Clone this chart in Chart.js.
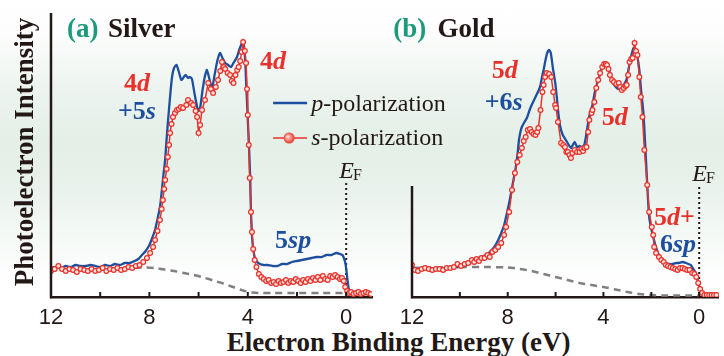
<!DOCTYPE html>
<html>
<head>
<meta charset="utf-8">
<script src="https://cdn.jsdelivr.net/npm/chart.js@4/dist/chart.umd.min.js"></script>
<style>
html, body { margin: 0; padding: 0; }
body {
    width: 724px; height: 356px; overflow: hidden; position: relative;
    background: linear-gradient(to bottom, #fff 0px, #fcfdfc 35px, #ebf3ee 95px, #e3efe7 145px,
                #e9f2ec 190px, #f6faf7 240px, #fff 285px, #fff 356px);
}
.panel { position: absolute; top: 0; height: 356px; }
#pa { left: 0; width: 470px; z-index: 2; }
#pb { left: 380px; width: 344px; z-index: 1; }
#xtitle {
    position: absolute; left: 0; width: 797px; top: 329px; text-align: center;
    font: bold 27px/27px "Liberation Serif", serif; color: #231815; white-space: nowrap;
}
</style>
</head>
<body>
<div class="panel" id="pa"><canvas id="chartA"></canvas></div>
<div class="panel" id="pb"><canvas id="chartB"></canvas></div>
<div id="xtitle">Electron Binding Energy (eV)</div>
<script>
// Photoemission spectra, Ag and Au — p- vs s-polarization

const RED = '#e8312b';
const BLUE = '#1d4f9e';
const INK = '#231815';
const TEAL = '#1d9a7c';
const GRAY = '#808080';
const SERIF = '"Liberation Serif", "Times New Roman", serif';
const SANS = '"Liberation Sans", Arial, sans-serif';

// ── Axis ticks (binding energy, eV) ───────────────────────────────────
const tickValues = [0, 2, 4, 6, 8, 10, 12];
const tickLabels = ['0', '', '4', '', '8', '', '12'];

// ── (a) Silver ────────────────────────────────────────────────────────
const agPEnergy = [12.0, 11.8, 11.6, 11.4, 11.2, 11.0, 10.8, 10.6, 10.4, 10.2, 10.0, 9.8, 9.6, 9.4, 9.2, 9.0,
    8.8, 8.6, 8.45, 8.3, 8.15, 8.0, 7.9, 7.77, 7.67, 7.57, 7.5, 7.43, 7.36, 7.3, 7.24, 7.16, 7.08, 7.0, 6.9, 6.8,
    6.7, 6.6, 6.52, 6.43, 6.35, 6.27, 6.17, 6.06, 6.0, 5.93, 5.85, 5.75, 5.66, 5.56, 5.45, 5.35, 5.24, 5.13, 5.03, 4.92,
    4.8, 4.68, 4.56, 4.44, 4.35, 4.27, 4.19, 4.12, 4.05, 4.0, 3.95, 3.9, 3.87, 3.83, 3.79, 3.72, 3.62, 3.5, 3.35, 3.2,
    3.0, 2.8, 2.6, 2.4, 2.2, 2.0, 1.8, 1.6, 1.4, 1.2, 1.0, 0.8, 0.6, 0.4, 0.25, 0.15, 0.08, 0.02, -0.04, -0.1,
    -0.18, -0.3, -0.5, -0.7, -0.9, -1.0];
const agPIntensity = [29, 30, 29, 31, 30, 32, 31, 31, 32, 31, 30, 32, 31, 33, 32, 34,
    34, 36, 38, 42, 46, 52, 58, 67, 78, 90, 105, 122, 137, 158, 177, 200, 220, 229, 232, 225,
    217, 220, 222, 219, 220, 218, 204, 190, 186, 190, 205, 220, 227, 218, 209, 222, 236, 244, 239, 234,
    232, 230, 235, 240, 247, 252, 255, 243, 205, 178, 150, 118, 84, 62, 50, 40, 35, 33, 32, 32,
    31, 31, 33, 33, 35, 36, 37, 38, 39, 40, 40, 42, 42, 44, 43, 42, 38, 32, 20, 9,
    5, 4, 4, 3, 4, 3];

const agSEnergy = [12.0, 11.85, 11.7, 11.55, 11.4, 11.25, 11.1, 10.95, 10.8, 10.65,
    10.5, 10.35, 10.2, 10.05, 9.9, 9.75, 9.6, 9.45, 9.3, 9.15,
    9.0, 8.85, 8.7, 8.55, 8.4, 8.25, 8.1, 7.97, 7.85, 7.77,
    7.67, 7.57, 7.5, 7.45, 7.4, 7.36, 7.3, 7.25, 7.2, 7.16,
    7.1, 7.04, 6.96, 6.88, 6.8, 6.72, 6.63, 6.5, 6.43, 6.3,
    6.22, 6.12, 6.06, 6.0, 5.94, 5.86, 5.74, 5.61, 5.5, 5.41,
    5.3, 5.21, 5.12, 5.05, 4.98, 4.92, 4.82, 4.72, 4.65, 4.58,
    4.5, 4.43, 4.37, 4.31, 4.25, 4.19, 4.12, 4.07, 4.03, 4.0,
    3.96, 3.92, 3.87, 3.83, 3.78, 3.72, 3.65, 3.55, 3.45, 3.35,
    3.25, 3.15, 3.05, 2.95, 2.85, 2.75, 2.65, 2.55, 2.45, 2.35,
    2.25, 2.15, 2.05, 1.95, 1.85, 1.75, 1.65, 1.55, 1.45, 1.35,
    1.25, 1.15, 1.05, 0.95, 0.85, 0.75, 0.65, 0.55, 0.45, 0.35,
    0.25, 0.17, 0.1, 0.04, -0.04, -0.12, -0.2, -0.3, -0.4, -0.5,
    -0.6, -0.7, -0.8, -0.9, -1.0];
const agSIntensity = [26, 28, 31, 28, 26, 28, 27, 25, 28, 27,
    26, 28, 26, 27, 29, 26, 28, 27, 29, 27,
    28, 30, 29, 31, 32, 35, 39, 44, 50, 57,
    66, 77, 88, 97, 108, 117, 128, 140, 152, 164,
    173, 180, 184, 187, 188, 190, 189, 192, 197, 194,
    192, 186, 180, 164, 172, 187, 197, 214, 208, 204,
    210, 217, 226, 235, 230, 228, 224, 222, 216, 214,
    222, 227, 230, 236, 245, 255, 246, 234, 208, 182,
    152, 119, 85, 65, 48, 37, 30, 23, 20, 18,
    16, 17, 14, 15, 13, 16, 14, 15, 17, 14,
    16, 15, 18, 16, 14, 17, 15, 18, 16, 19,
    17, 20, 17, 21, 18, 17, 21, 20, 22, 20,
    18, 19, 16, 10, 6, 4, 5, 3, 4, 5,
    3, 4, 5, 4, 3];

const agBgEnergy = [8.6, 8.2, 7.8, 7.4, 7.0, 6.6, 6.2, 5.8, 5.4, 5.0, 4.6, 4.2, 3.8, 3.4, 3.0, 2.0, 1.0, 0.1];
const agBgIntensity = [29, 29.5, 29, 27.5, 26, 24, 22, 19.5, 16.5, 13.5, 10, 6.5, 4.5, 4, 4, 4, 4, 4];

// ── (b) Gold ──────────────────────────────────────────────────────────
const auPEnergy = [12.0, 11.8, 11.6, 11.4, 11.2, 11.0, 10.8, 10.6, 10.4, 10.2, 10.0, 9.8, 9.6, 9.4, 9.2, 9.0,
    8.8, 8.56, 8.4, 8.27, 8.15, 8.07, 7.95, 7.86, 7.76, 7.66,
    7.58, 7.53, 7.46, 7.41, 7.3, 7.2, 7.1, 7.0, 6.9, 6.8,
    6.7, 6.63, 6.55, 6.5, 6.43, 6.35, 6.27, 6.2, 6.12, 6.02,
    5.95, 5.9, 5.82, 5.7, 5.57, 5.45, 5.36, 5.28, 5.2, 5.1,
    5.0, 4.9, 4.79, 4.7, 4.6, 4.46, 4.36, 4.26, 4.15, 4.05,
    3.93, 3.85, 3.77, 3.64, 3.55, 3.44, 3.33, 3.23, 3.13, 3.03,
    2.95, 2.85, 2.74, 2.66, 2.58, 2.5, 2.42, 2.33, 2.25, 2.17,
    2.09, 2.0, 1.92, 1.82, 1.72, 1.6, 1.5, 1.39, 1.25, 1.1,
    0.95, 0.86, 0.7, 0.55, 0.45, 0.35, 0.25, 0.16, 0.08, 0.04,
    -0.04, -0.12, -0.25, -0.4, -0.6, -0.8];
const auPIntensity = [29, 28, 29, 28, 29, 28, 29, 29, 30, 30, 30, 31, 34, 36, 38, 41,
    44, 50, 57, 64, 72, 80, 93, 104, 117, 130,
    145, 157, 166, 170, 175, 179, 186, 192, 197, 202,
    207, 212, 222, 227, 236, 244, 247, 244, 230, 215,
    200, 187, 172, 162, 157, 152, 149, 152, 155, 150,
    151, 150, 153, 165, 180, 192, 205, 214, 222, 230,
    234, 230, 227, 217, 212, 209, 208, 210, 213, 218,
    228, 240, 249, 247, 240, 227, 205, 184, 150, 112,
    80, 68, 60, 51, 44, 39, 36, 34, 33, 33,
    34, 34, 35, 34, 33, 32, 28, 25, 20, 14,
    8, 4, 3, 2, 2, 2];

const auSEnergy = [12.0, 11.88, 11.75, 11.6, 11.45, 11.3, 11.15, 11.0, 10.85, 10.7,
    10.55, 10.4, 10.25, 10.1, 9.95, 9.8, 9.65, 9.5, 9.4, 9.3,
    9.2, 9.1, 8.97, 8.85, 8.75, 8.64, 8.52, 8.4, 8.27, 8.15,
    8.07, 7.94, 7.82, 7.7, 7.6, 7.5, 7.41, 7.33, 7.25, 7.16,
    7.07, 7.0, 6.92, 6.84, 6.77, 6.72, 6.63, 6.55, 6.5, 6.44,
    6.37, 6.27, 6.18, 6.1, 6.02, 5.98, 5.9, 5.77, 5.68, 5.61,
    5.55, 5.49, 5.42, 5.36, 5.3, 5.2, 5.1, 5.0, 4.92, 4.85,
    4.79, 4.71, 4.64, 4.59, 4.5, 4.46, 4.38, 4.3, 4.22, 4.14,
    4.05, 3.97, 3.9, 3.85, 3.79, 3.73, 3.64, 3.56, 3.46, 3.36,
    3.3, 3.23, 3.15, 3.08, 3.03, 2.97, 2.91, 2.84, 2.78, 2.7,
    2.64, 2.58, 2.5, 2.44, 2.37, 2.29, 2.17, 2.09, 1.98, 1.92,
    1.88, 1.8, 1.68, 1.58, 1.48, 1.39, 1.3, 1.2, 1.1, 1.0,
    0.9, 0.8, 0.7, 0.6, 0.5, 0.4, 0.29, 0.2, 0.12, 0.04,
    -0.04, -0.12, -0.22, -0.32, -0.42, -0.52, -0.62, -0.72];
const auSIntensity = [32, 27, 26, 28, 29, 28, 27, 28, 28, 27,
    29, 29, 30, 33, 31, 33, 34, 37, 35, 38,
    36, 39, 39, 42, 40, 45, 47, 50, 54, 62,
    70, 85, 107, 124, 135, 142, 149, 156, 160, 167,
    168, 165, 163, 162, 165, 169, 187, 205, 212, 220,
    224, 223, 220, 205, 192, 189, 175, 154, 152, 150,
    145, 145, 142, 139, 144, 147, 145, 145, 148, 146,
    149, 150, 165, 177, 184, 187, 195, 209, 217, 224,
    230, 233, 233, 232, 228, 222, 217, 215, 213, 214,
    210, 207, 209, 211, 212, 222, 235, 238, 239, 254,
    246, 242, 220, 200, 180, 147, 112, 85, 70, 62,
    50, 44, 40, 37, 35, 32, 31, 30, 29, 28,
    27, 29, 29, 28, 27, 27, 24, 23, 20, 14,
    8, 4, 2, 2, 2, 2, 2, 2];

const auBgEnergy = [12, 11, 10, 9, 8, 7.5, 7, 6.5, 6, 5.5, 5, 4.5, 4, 3.5, 3, 2.5, 2, 1.5, 1, 0.5, 0];
const auBgIntensity = [29, 29.5, 30, 30, 29.5, 28, 26, 23, 20, 17, 14, 12, 10, 7.5, 5, 3, 2, 1.5, 1.5, 1.5, 1.5];

// ── Helpers ───────────────────────────────────────────────────────────

const pts = (xs, ys) => xs.map((x, i) => ({ x, y: ys[i] }));

const B26 = `bold 26px ${SERIF}`;
const BI26 = `bold italic 26px ${SERIF}`;
const B27 = `bold 27px ${SERIF}`;

function drawRich(ctx, x, y, parts) {
    let cx = x;
    ctx.textAlign = 'left';
    ctx.textBaseline = 'alphabetic';
    parts.forEach(p => {
        ctx.font = p.f;
        ctx.fillStyle = p.c;
        cx += p.dx || 0;
        ctx.fillText(p.t, cx, y + (p.dy || 0));
        cx += ctx.measureText(p.t).width;
    });
}

// axes, E_F marker, labels and legend, all placed through the chart scales
const decor = {
    id: 'decor',
    beforeDatasetsDraw(chart, args, o) {
        const { ctx, chartArea: a, scales: { x, y } } = chart;
        ctx.save();
        ctx.strokeStyle = INK;
        ctx.lineWidth = 2;
        ctx.setLineDash([2, 3]);
        const ef = x.getPixelForValue(0);
        ctx.beginPath();
        ctx.moveTo(ef, y.getPixelForValue(o.efTop));
        ctx.lineTo(ef, a.bottom);
        ctx.stroke();
        ctx.restore();
    },
    afterDatasetsDraw(chart, args, o) {
        const { ctx, chartArea: a, scales: { x, y } } = chart;
        ctx.save();
        ctx.strokeStyle = INK;
        ctx.lineWidth = 2.5;
        ctx.beginPath();
        ctx.moveTo(a.left, y.getPixelForValue(o.axisTop));
        ctx.lineTo(a.left, a.bottom + 1.25);
        ctx.stroke();

        ctx.lineWidth = 2;
        tickValues.forEach(v => {
            const px = x.getPixelForValue(v);
            ctx.beginPath();
            ctx.moveTo(px, a.bottom);
            ctx.lineTo(px, a.bottom - 5);
            ctx.stroke();
        });

        if (o.legend) {
            const L = o.legend;
            const x0 = x.getPixelForValue(L.x0), x1 = x.getPixelForValue(L.x1);
            const yp = y.getPixelForValue(L.yP), ys = y.getPixelForValue(L.yS);
            ctx.strokeStyle = BLUE;
            ctx.lineWidth = 2.5;
            ctx.beginPath(); ctx.moveTo(x0, yp); ctx.lineTo(x1, yp); ctx.stroke();
            ctx.strokeStyle = RED;
            ctx.lineWidth = 1.6;
            ctx.beginPath(); ctx.moveTo(x0, ys); ctx.lineTo(x1, ys); ctx.stroke();
            const bx = x.getPixelForValue(L.xBall);
            const g = ctx.createRadialGradient(bx - 1.5, ys - 1.5, 0.5, bx, ys, 6);
            g.addColorStop(0, '#ffe1d8');
            g.addColorStop(0.6, '#f2685a');
            g.addColorStop(1, RED);
            ctx.fillStyle = g;
            ctx.beginPath(); ctx.arc(bx, ys, 5.5, 0, Math.PI * 2); ctx.fill();
        }

        o.labels.forEach(l => drawRich(ctx, x.getPixelForValue(l.x), y.getPixelForValue(l.y), l.parts));

        if (o.yTitle) {
            ctx.translate(a.left - 18, (a.top + a.bottom) / 2 - 3);
            ctx.rotate(-Math.PI / 2);
            ctx.font = B27;
            ctx.fillStyle = INK;
            ctx.textAlign = 'center';
            ctx.fillText(o.yTitle, 0, 0);
        }
        ctx.restore();
    }
};

function makePanel(id, cfg) {
    return new Chart(document.getElementById(id), {
        type: 'line',
        data: {
            datasets: [
                {
                    label: 's-polarization',
                    data: pts(cfg.sE, cfg.sI),
                    borderColor: RED,
                    borderWidth: 1.5,
                    pointRadius: 2.4,
                    pointBorderWidth: 1.2,
                    pointBorderColor: RED,
                    pointBackgroundColor: '#fde3dc',
                    order: 0,
                },
                {
                    label: 'p-polarization',
                    data: pts(cfg.pE, cfg.pI),
                    borderColor: BLUE,
                    borderWidth: 2.3,
                    pointRadius: 0,
                    tension: 0.2,
                    order: 1,
                },
                {
                    label: 'background',
                    data: pts(cfg.bgE, cfg.bgI),
                    borderColor: GRAY,
                    borderWidth: 2.5,
                    borderDash: [7, 5],
                    pointRadius: 0,
                    tension: 0.3,
                    order: 2,
                },
            ]
        },
        options: {
            responsive: true,
            maintainAspectRatio: false,
            animation: false,
            events: [],
            layout: { padding: { left: cfg.padLeft, right: cfg.padRight, top: 13, bottom: 0 } },
            plugins: {
                legend: { display: false },
                tooltip: { enabled: false },
                decor: cfg.decor,
            },
            scales: {
                x: {
                    type: 'linear',
                    reverse: true,
                    min: cfg.xMin,
                    max: 12,
                    afterBuildTicks: s => { s.ticks = tickValues.map(v => ({ value: v })); },
                    afterFit: s => { s.height = 59; },
                    grid: { display: false },
                    border: { display: true, color: INK, width: 2.5 },
                    ticks: {
                        autoSkip: false,
                        maxRotation: 0,
                        padding: 0,
                        color: INK,
                        font: { family: SANS, size: 22 },
                        callback: (v, i) => tickLabels[i],
                    },
                },
                y: { display: false, min: 0, max: 284 },
            }
        },
        plugins: [decor]
    });
}

// ── Init ──────────────────────────────────────────────────────────────

makePanel('chartA', {
    pE: agPEnergy, pI: agPIntensity, sE: agSEnergy, sI: agSIntensity, bgE: agBgEnergy, bgI: agBgIntensity,
    xMin: -1.05, padLeft: 51, padRight: 98,
    decor: {
        axisTop: 284,
        efTop: 114,
        yTitle: 'Photoelectron Intensity',
        legend: { x0: 2.97, x1: 1.59, xBall: 2.32, yP: 194, yS: 159 },
        labels: [
            { x: 11.35, y: 260, parts: [{ t: '(a)', f: B27, c: TEAL }] },
            { x: 9.68, y: 260, parts: [{ t: 'Silver', f: B27, c: INK }] },
            { x: 9.03, y: 206, parts: [{ t: '4', f: B26, c: RED }, { t: 'd', f: BI26, c: RED }] },
            { x: 9.28, y: 178, parts: [{ t: '+5', f: B26, c: BLUE }, { t: 's', f: BI26, c: BLUE }] },
            { x: 3.5, y: 228, parts: [{ t: '4', f: B26, c: RED }, { t: 'd', f: BI26, c: RED }] },
            { x: 2.89, y: 49, parts: [{ t: '5', f: B26, c: BLUE }, { t: 'sp', f: BI26, c: BLUE }] },
            { x: 1.42, y: 186, parts: [{ t: 'p', f: `italic 24px ${SERIF}`, c: INK }, { t: '-polarization', f: `24px ${SERIF}`, c: INK }] },
            { x: 1.42, y: 152, parts: [{ t: 's', f: `italic 24px ${SERIF}`, c: INK }, { t: '-polarization', f: `24px ${SERIF}`, c: INK }] },
            { x: 0.28, y: 119, parts: [{ t: 'E', f: `italic 24px ${SERIF}`, c: INK }, { t: 'F', f: `16px ${SERIF}`, c: INK, dy: 2, dx: -1 }] },
        ],
    },
});

makePanel('chartB', {
    pE: auPEnergy, pI: auPIntensity, sE: auSEnergy, sI: auSIntensity, bgE: auBgEnergy, bgI: auBgIntensity,
    xMin: -0.82, padLeft: 32, padRight: 0,
    decor: {
        axisTop: 111,
        efTop: 110,
        labels: [
            { x: 12.78, y: 260, parts: [{ t: '(b)', f: B27, c: TEAL }] },
            { x: 10.93, y: 260, parts: [{ t: 'Gold', f: B27, c: INK }] },
            { x: 8.67, y: 219, parts: [{ t: '5', f: B26, c: RED }, { t: 'd', f: BI26, c: RED }] },
            { x: 8.96, y: 187, parts: [{ t: '+6', f: B26, c: BLUE }, { t: 's', f: BI26, c: BLUE }] },
            { x: 4.07, y: 172, parts: [{ t: '5', f: B26, c: RED }, { t: 'd', f: BI26, c: RED }] },
            { x: 1.89, y: 72, parts: [{ t: '5', f: B26, c: RED }, { t: 'd', f: BI26, c: RED }, { t: '+', f: B26, c: RED }] },
            { x: 1.64, y: 45, parts: [{ t: '6', f: B26, c: BLUE }, { t: 'sp', f: BI26, c: BLUE }] },
            { x: 0.29, y: 116, parts: [{ t: 'E', f: `italic 24px ${SERIF}`, c: INK }, { t: 'F', f: `16px ${SERIF}`, c: INK, dy: 2, dx: -1 }] },
        ],
    },
});
</script>
</body>
</html>
